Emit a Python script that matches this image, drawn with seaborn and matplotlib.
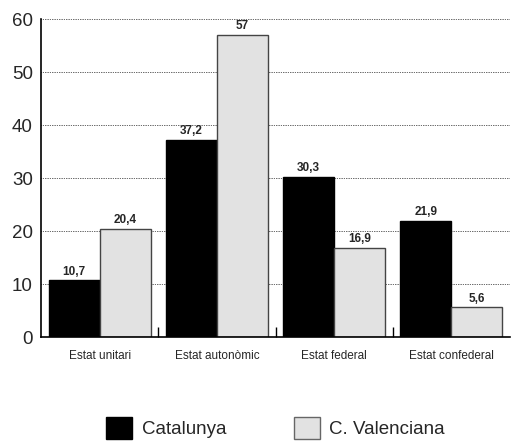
import pandas as pd
import matplotlib.pyplot as plt
import seaborn as sns
from matplotlib.patches import Patch

categories = ["Estat unitari", "Estat autonòmic", "Estat federal", "Estat confederal"]
catalunya = [10.7, 37.2, 30.3, 21.9]
valenciana = [20.4, 57, 16.9, 5.6]
series = ["Catalunya", "C. Valenciana"]
colors = ["#000000", "#e2e2e2"]

df = pd.DataFrame({
    "cat": categories * 2,
    "val": catalunya + valenciana,
    "serie": [series[0]] * 4 + [series[1]] * 4,
})

sns.set_style("white")
plt.rcParams['font.family'] = ['Liberation Sans', 'DejaVu Sans']

fig = plt.figure(figsize=(5.15, 4.47), dpi=100)
ax = fig.add_axes([0.08, 0.246, 0.91, 0.711])

sns.barplot(data=df, x="cat", y="val", hue="serie", palette=colors,
            width=0.87, gap=0, ax=ax, legend=False, saturation=1)

# bar edges + value labels with comma decimals
for i, cont in enumerate(ax.containers):
    for bar in cont:
        if i == 0:
            bar.set_edgecolor("#000000")
        else:
            bar.set_edgecolor("#444444")
        bar.set_linewidth(1.0)
    labels = [str(v).replace(".", ",") for v in (catalunya if i == 0 else valenciana)]
    ax.bar_label(cont, labels=labels, padding=2, fontsize=8.5, fontweight="bold")

ax.set_ylim(0, 60)
ax.set_xlim(-0.5, 3.5)
ax.set_yticks([0, 10, 20, 30, 40, 50, 60])
ax.yaxis.grid(True, linestyle=(0, (0.6, 1.2)), color="black", linewidth=0.7)
ax.set_axisbelow(True)
ax.tick_params(axis="y", labelsize=13.5, length=0, pad=6)
ax.tick_params(axis="x", labelsize=8.5, length=0, pad=9)
ax.set_xticks([0.5, 1.5, 2.5], minor=True)
ax.tick_params(axis="x", which="minor", bottom=True, direction="in",
               length=7, width=1, color="black")
ax.set_xlabel("")
ax.set_ylabel("")
for s in ["top", "right"]:
    ax.spines[s].set_visible(False)
for s in ["left", "bottom"]:
    ax.spines[s].set_color("black")
    ax.spines[s].set_linewidth(1.2)

handles = [Patch(facecolor=colors[0], edgecolor="black"),
           Patch(facecolor=colors[1], edgecolor="#666666")]
fig.legend(handles, series, loc="center", bbox_to_anchor=(0.535, 0.042), ncol=2,
           frameon=False, fontsize=13.5, handlelength=1.4, handleheight=1.4,
           columnspacing=3.6, handletextpad=0.5)

fig.savefig("out.png", dpi=100)
